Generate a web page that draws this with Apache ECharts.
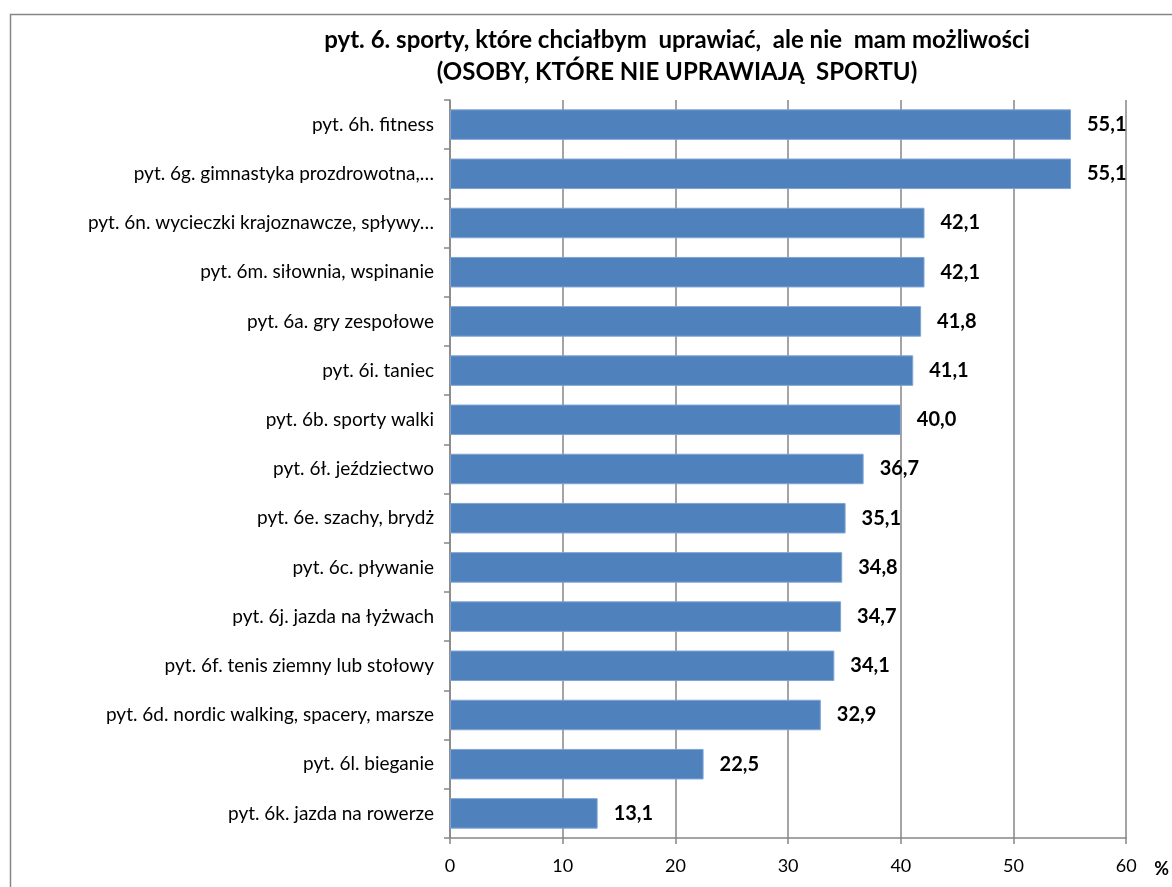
<!DOCTYPE html>
<html>
<head>
<meta charset="utf-8">
<script src="https://cdn.jsdelivr.net/npm/echarts@6/dist/echarts.min.js"></script>
<style>
  html, body { margin: 0; padding: 0; background: #fff; }
  #chart { width: 1172px; height: 887px; }
</style>
</head>
<body>
<div id="chart"></div>
<script>
// kategorie (od góry)
var categories = [
    'pyt. 6h. fitness',
    'pyt. 6g. gimnastyka prozdrowotna,…',
    'pyt. 6n. wycieczki krajoznawcze, spływy…',
    'pyt. 6m. siłownia, wspinanie',
    'pyt. 6a. gry zespołowe',
    'pyt. 6i. taniec',
    'pyt. 6b. sporty walki',
    'pyt. 6ł. jeździectwo',
    'pyt. 6e. szachy, brydż',
    'pyt. 6c. pływanie',
    'pyt. 6j. jazda na łyżwach',
    'pyt. 6f. tenis ziemny lub stołowy',
    'pyt. 6d. nordic walking, spacery, marsze',
    'pyt. 6l. bieganie',
    'pyt. 6k. jazda na rowerze'
];
// wartości w %
var values = [55.1, 55.1, 42.1, 42.1, 41.8, 41.1, 40.0, 36.7, 35.1, 34.8, 34.7, 34.1, 32.9, 22.5, 13.1];
var xTicks = [0, 10, 20, 30, 40, 50, 60];

var myChart = echarts.init(document.getElementById('chart'));

var option = {
    backgroundColor: '#fff',
    textStyle: { fontFamily: 'Lato' },
    title: {
        text: 'pyt. 6. sporty, które chciałbym  uprawiać,  ale nie  mam możliwości\n(OSOBY, KTÓRE NIE UPRAWIAJĄ  SPORTU)',
        left: 672,
        top: 19,
        textAlign: 'center',
        textStyle: {
            fontFamily: 'Lato',
            fontSize: 24,
            fontWeight: 'bold',
            color: '#000',
            lineHeight: 32
        }
    },
    graphic: [{
        type: 'rect',
        left: 8,
        top: 12,
        shape: { width: 1200, height: 900 },
        style: { fill: 'none', stroke: '#868686', lineWidth: 1.5 },
        silent: true
    }],
    grid: {
        left: 450,
        right: 42,
        top: 100,
        bottom: 49
    },
    xAxis: {
        type: 'value',
        min: xTicks[0],
        max: xTicks[xTicks.length - 1],
        interval: 10,
        name: '%',
        nameLocation: 'end',
        nameGap: 28,
        nameTextStyle: {
            fontFamily: 'Lato',
            fontSize: 18,
            fontWeight: 'bold',
            color: '#000',
            verticalAlign: 'top',
            padding: [22, 0, 0, 0]
        },
        axisLine: { show: true, lineStyle: { color: '#868686', width: 1.5 } },
        axisTick: { show: true, length: 6, lineStyle: { color: '#868686', width: 1.5 } },
        axisLabel: {
            fontFamily: 'Lato',
            fontSize: 18,
            color: '#000',
            margin: 19
        },
        splitLine: { show: true, lineStyle: { color: '#868686', width: 1.5 } }
    },
    yAxis: {
        type: 'category',
        data: categories,
        inverse: true,
        axisLine: { show: true, lineStyle: { color: '#868686', width: 1.5 } },
        axisTick: { show: true, length: 6, lineStyle: { color: '#868686', width: 1.5 } },
        axisLabel: {
            fontFamily: 'Lato',
            fontSize: 19,
            color: '#000',
            margin: 16
        },
        splitLine: { show: false }
    },
    series: [{
        type: 'bar',
        data: values,
        barCategoryGap: '38%',
        itemStyle: {
            color: '#4F81BD',
            borderColor: '#7FA3D3',
            borderWidth: 1
        },
        label: {
            show: true,
            position: 'right',
            distance: 16,
            fontFamily: 'Lato',
            fontSize: 20,
            fontWeight: 'bold',
            color: '#000',
            formatter: function (p) {
                return p.value.toFixed(1).replace('.', ',');
            }
        }
    }]
};
myChart.setOption(option);
</script>
</body>
</html>
